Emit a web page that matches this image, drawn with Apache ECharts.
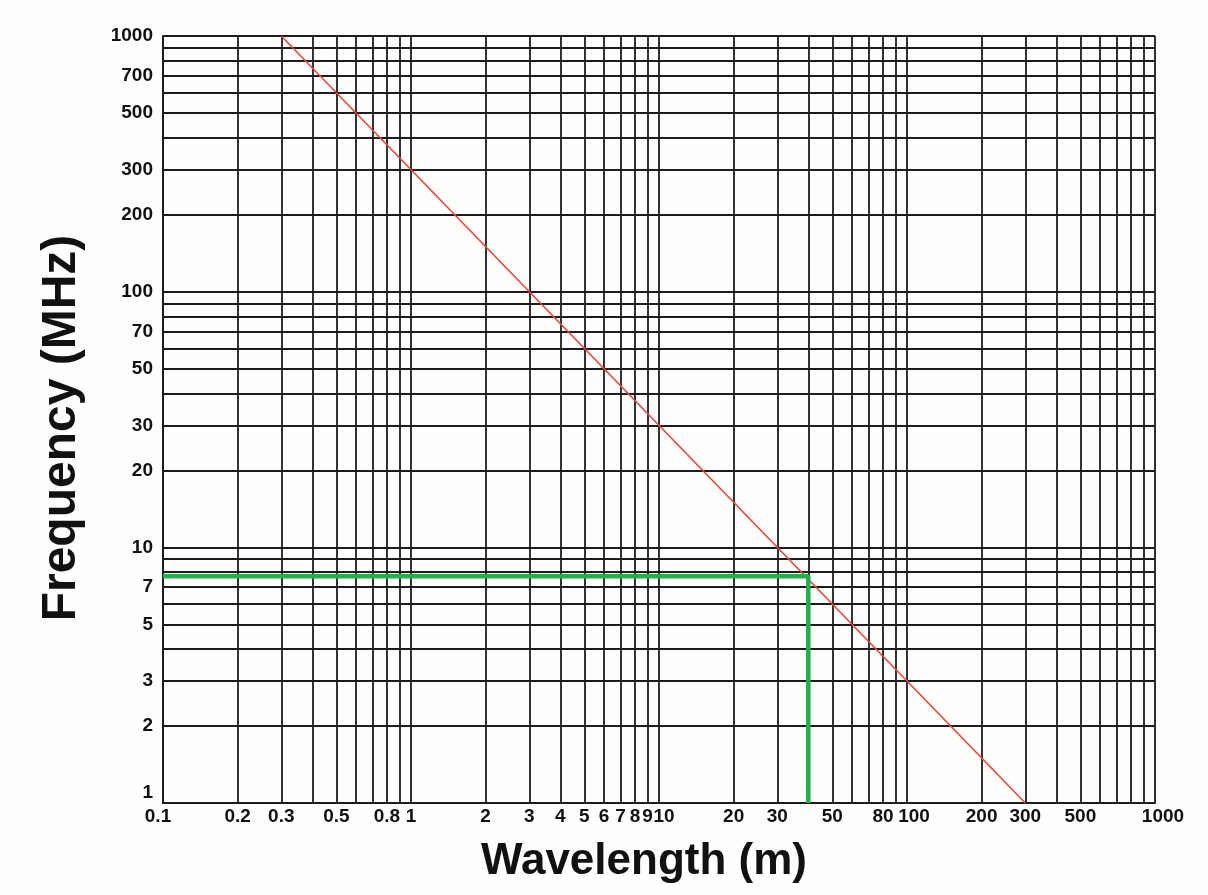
<!DOCTYPE html>
<html>
<head>
<meta charset="utf-8">
<script src="https://cdn.jsdelivr.net/npm/echarts@6/dist/echarts.min.js"></script>
<style>
html,body{margin:0;padding:0;background:#fefefc;}
#chart{width:1208px;height:895px;}
</style>
</head>
<body>
<div id="chart"></div>
<script>
// grid line positions (log decades, 1..9 subdivisions)
const xGridValues = [0.1,0.2,0.3,0.4,0.5,0.6,0.7,0.8,0.9,1,2,3,4,5,6,7,8,9,10,20,30,40,50,60,70,80,90,100,200,300,400,500,600,700,800,900,1000];
const yGridValues = [1,2,3,4,5,6,7,8,9,10,20,30,40,50,60,70,80,90,100,200,300,400,500,600,700,800,900,1000];
// tick labels
const xLabelValues = [0.1,0.2,0.3,0.5,0.8,1,2,3,4,5,6,7,8,9,10,20,30,50,80,100,200,300,500,1000];
const yLabelValues = [1,2,3,5,7,10,20,30,50,70,100,200,300,500,700,1000];
// red line: frequency = 300 / wavelength
const redWavelength = [0.3, 300];
const redFrequency = [1000, 1];
// green reading example
const greenWavelength = [0.1, 40, 40];
const greenFrequency = [7.7, 7.7, 1];

const chart = echarts.init(document.getElementById('chart'), null, {renderer:'canvas'});
const font = '"Liberation Sans", Arial, sans-serif';
const lineColor = '#1c1c1c';
const lbl = {fontFamily: font, fontWeight: 'bold', fontSize: 19, color: '#111'};

chart.setOption({
  backgroundColor: '#fefefc',
  animation: false,
  grid: {left: 163, right: 53, top: 36, bottom: 92, containLabel: false},
  xAxis: {
    type: 'log', min: 0.1, max: 1000, logBase: 10,
    name: 'Wavelength (m)', nameLocation: 'middle', nameGap: 37,
    nameTextStyle: {fontFamily: font, fontWeight: 'bold', fontSize: 44, color: '#111', padding: [0, 30, 0, 0]},
    axisLine: {show: true, lineStyle: {color: lineColor, width: 2}},
    axisTick: {show: false, customValues: xGridValues},
    splitLine: {show: true, lineStyle: {color: lineColor, width: 1.8}},
    axisLabel: Object.assign({
      customValues: xLabelValues, margin: 4, hideOverlap: false,
      formatter: v => {
        const s = String(v);
        if (v === 0.1) return '{l|' + s + '}';
        if (v === 1000) return '{r|' + s + '}';
        if (v === 10) return '{t|' + s + '}';
        if (v === 100) return '{h|' + s + '}';
        return s;
      },
      rich: {
        l: Object.assign({padding: [0, 10, 0, 0]}, lbl),
        r: Object.assign({padding: [0, 0, 0, 16]}, lbl),
        t: Object.assign({padding: [0, 0, 0, 10]}, lbl),
        h: Object.assign({padding: [0, 0, 0, 14]}, lbl)
      }
    }, lbl)
  },
  yAxis: {
    type: 'log', min: 1, max: 1000, logBase: 10,
    name: 'Frequency (MHz)', nameLocation: 'middle', nameGap: 77, nameRotate: 90,
    nameTextStyle: {fontFamily: font, fontWeight: 'bold', fontSize: 48, color: '#111', padding: [0, 17, 0, 0]},
    axisLine: {show: true, lineStyle: {color: lineColor, width: 2}},
    axisTick: {show: false, customValues: yGridValues},
    splitLine: {show: true, lineStyle: {color: lineColor, width: 1.8}},
    axisLabel: Object.assign({
      customValues: yLabelValues, margin: 10, hideOverlap: false,
      formatter: v => v === 1 ? '{b|1}' : String(v),
      rich: {
        b: Object.assign({padding: [0, 0, 20, 0]}, lbl)
      }
    }, lbl)
  },
  series: [
    {
      type: 'line', name: 'red', symbol: 'none', silent: true,
      data: redWavelength.map((x, i) => [x, redFrequency[i]]),
      lineStyle: {color: '#e8463a', width: 1.6}
    },
    {
      type: 'line', name: 'green', symbol: 'none', silent: true,
      data: greenWavelength.map((x, i) => [x, greenFrequency[i]]),
      lineStyle: {color: '#1fb24a', width: 4.5}
    }
  ]
});
</script>
</body>
</html>
